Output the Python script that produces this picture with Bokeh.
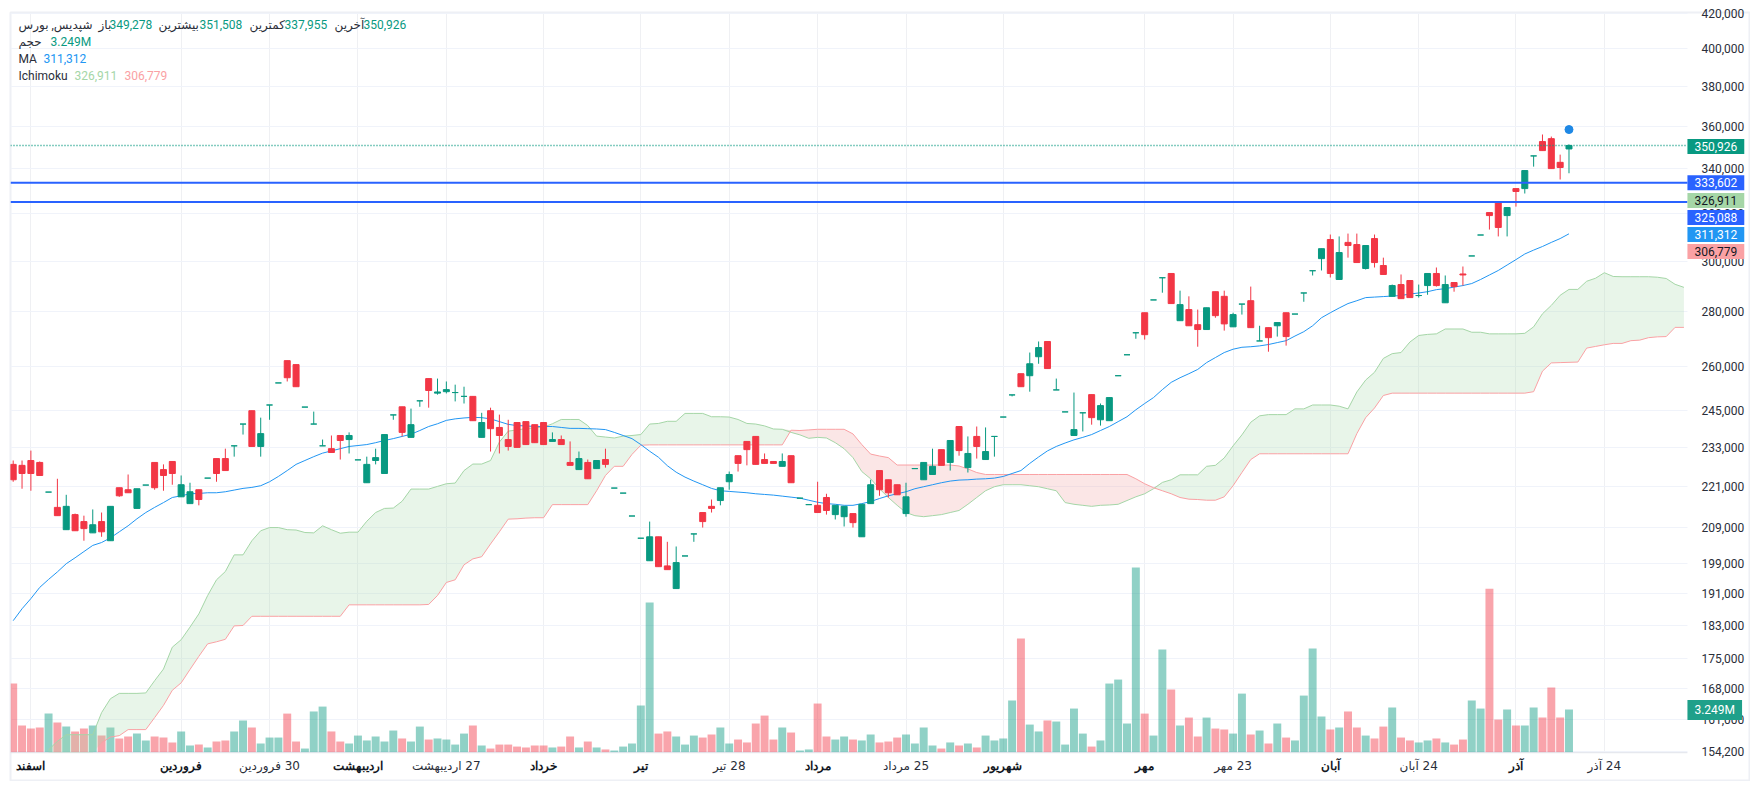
from bokeh.embed import file_html
from bokeh.models import (ColumnDataSource, FixedTicker, Label, LabelSet, LinearScale,
                          NumeralTickFormatter, Range1d)
from bokeh.plotting import figure
from bokeh.resources import INLINE

highs = [228900,228900,232000,228600,219300,223300,218500,213000,212400,214200,213300,215100,220600,224600,220300,221400,
         228300,227700,228600,224300,222100,220000,223500,229500,232600,233500,240500,244900,242600,246800,254300,262100,
         260700,246100,244600,235500,236800,236800,237800,229100,230100,232600,237100,243500,246200,245600,248200,255800,
         255800,254800,253700,253000,249700,244200,245900,243600,241900,241000,241300,240300,241000,237800,236800,234900,
         231700,229200,228900,232600,220500,219000,212300,206000,210700,206400,205000,203700,201100,207200,213300,217100,
         220600,225500,230400,234900,236500,231100,228600,231100,230400,217500,215600,222400,218800,215400,215100,213000,
         215700,223000,225800,223000,221500,222100,226400,228300,232600,232300,235200,239700,236500,239700,239400,236500,
         242800,250200,257500,265000,269000,269000,255800,244500,251000,244200,250300,247300,249300,256800,264200,272200,
         279700,284600,293300,295000,288200,286000,280900,281600,287800,288200,279700,283000,289800,274800,274100,276000,
         279700,279200,287300,296100,305100,311000,310200,311400,311400,306400,311000,301400,290600,294600,292200,290600,
         295000,297400,294200,291400,297800,302100,310800,320400,325200,322600,331000,339200,346000,356200,355200,346600,351508]
opens = [227700,227400,228900,228300,219300,214800,208400,212700,210700,207500,210700,205300,220600,220000,214500,221400,
         228300,226100,228600,217900,215900,220000,223500,229500,229500,233500,240500,244900,233300,246800,254300,262100,
         260700,246100,240500,233500,232600,236800,235500,229100,222100,228900,224900,243500,246200,236200,248200,255800,
         250800,251300,251000,249700,249700,236200,244900,239400,235500,241000,241300,240300,241000,234900,235500,228300,
         226100,228300,226400,229200,220500,219000,212300,206000,199800,206400,198400,192400,201100,207200,213300,215100,
         216800,222400,230400,234900,236500,229200,228600,227100,230400,217500,215600,215400,217700,212700,212100,213000,
         206400,215900,225800,223000,221500,213000,226400,223000,224600,232300,228300,239700,226700,236500,229200,236500,
         242800,250200,257500,256800,263500,269000,251900,244500,236800,244200,250300,241900,241600,256800,264200,272200,
         279700,284600,293300,295000,276700,280900,275200,273400,287800,286000,274400,283000,284300,269200,274100,274800,
         279700,279200,287300,296100,301000,308900,292600,307700,306800,297000,309300,298200,286000,290600,292200,286300,
         290200,295000,283500,291400,294800,302100,310800,320400,325200,319100,331000,331000,346000,352800,354200,343000,349278]
closes = [223000,224900,224900,224300,219300,212400,215100,208100,208700,209800,207800,215100,218200,219100,220300,221400,
          220600,224300,224900,221500,219400,217100,223500,224900,225800,233500,240500,233300,237400,246800,254300,256100,
          253000,246100,240500,233500,231400,235200,236800,229100,227700,229800,237100,243500,237800,240300,248200,251700,
          251200,252000,251000,249700,241600,241000,239000,236800,233300,233000,233900,234500,233900,235500,233900,227400,
          229500,223300,228900,227700,220500,219000,212300,206000,206400,198200,197400,199300,201100,207200,210700,214500,
          220600,224600,228000,232300,227700,228000,228000,228600,222100,217500,215600,213300,213900,215400,215100,210400,
          215700,221500,220000,219100,218500,217900,226400,228300,227100,227400,235200,232000,231100,233300,231700,236500,
          242800,250200,253000,261000,266800,259300,251900,244500,238700,244200,242600,246600,249300,256800,264200,272200,
          271500,284600,293300,283200,282800,274800,273400,281600,278600,275500,279000,283000,274100,269200,270400,276000,
          270800,279200,287300,296100,305100,295000,303500,306400,299400,306400,299400,294600,290200,285100,285500,286300,
          295000,290200,290600,289800,294400,302100,310800,319100,314000,322600,329700,339200,346000,348500,340100,340600,350926]
lows = [222400,220300,219700,224300,219300,212400,208400,208100,205300,207500,206400,205300,217900,219100,214500,221400,
        220000,219700,221500,217900,215900,215400,223500,222400,225800,230100,237100,233300,230100,241900,254300,254800,
        253000,246100,240500,233500,231400,229200,231100,229100,222100,227700,224900,241900,236500,236200,246200,245900,
        250300,250700,248000,247300,241600,236200,231700,231100,232000,233000,233900,234500,233900,234900,233900,227400,
        226100,223300,226400,226700,220500,219000,212300,206000,199800,198200,197400,192400,201100,205000,209000,213300,
        215400,220000,225500,227400,227700,228000,228000,227100,222100,217500,215600,213300,212700,211300,209300,209000,
        206400,215900,218200,217700,218500,212100,226400,223000,224600,227400,225800,230400,225200,229500,229200,230100,
        242800,249700,253000,251300,261000,259300,251900,244500,236800,238100,240300,240000,241600,256800,264200,270000,
        269700,284600,287400,283200,276700,274800,267100,273400,277800,273000,274400,279000,274100,269200,265300,270800,
        267500,279200,283900,294200,296200,293400,292600,301400,299400,296600,297400,294600,286000,285100,285500,285500,
        286600,289800,283500,287800,290200,302100,310800,313100,310200,310200,323000,328800,341000,348500,340100,335100,337955]
volumes = [5.21,2.04,1.81,1.89,2.94,2.27,1.96,1.59,1.81,2.04,1.28,1.89,1.06,1.21,1.43,0.91,1.21,1.13,0.76,1.59,0.53,0.60,0.38,0.83,
           0.91,1.59,2.42,1.89,0.68,1.13,1.13,2.94,0.83,0.30,3.10,3.47,1.59,0.83,0.68,1.28,0.91,1.21,0.83,1.66,1.06,0.83,1.96,0.98,
           1.06,0.98,0.60,1.43,2.04,0.53,0.30,0.60,0.60,0.45,0.38,0.53,0.53,0.38,0.45,1.21,0.38,0.83,0.38,0.23,0.15,0.45,0.68,3.55,
           11.33,1.43,1.59,1.21,0.60,1.28,1.13,1.36,1.89,0.68,0.98,0.76,2.19,2.79,0.98,1.89,1.51,0.15,0.23,3.70,1.21,0.98,1.21,0.98,
           0.91,1.36,0.76,0.83,1.13,1.36,0.68,1.89,0.53,0.30,0.76,0.53,0.68,0.38,1.28,0.91,1.06,3.93,8.61,2.11,1.59,2.42,2.34,0.60,
           3.32,1.43,0.45,0.91,5.21,5.51,2.19,13.97,2.94,1.28,7.78,4.76,2.04,2.64,1.21,2.64,1.81,1.74,1.43,4.45,1.36,1.66,0.68,2.19,
           1.13,0.91,4.30,7.85,2.72,1.74,1.89,3.10,1.89,1.28,1.06,1.96,3.40,1.13,0.91,0.76,0.91,1.06,0.76,0.60,0.98,3.93,3.32,12.38,
           2.49,3.25,2.04,2.04,3.40,2.64,4.91,2.64,3.249]
ma = [184200,187200,189800,192700,194800,196800,199000,200600,202300,204000,204800,206100,207800,209500,211500,213300,214800,216200,
      217700,218200,218800,218900,219100,219100,219400,219900,220400,220700,221200,222400,224000,225800,227700,228900,230100,231200,
      231900,232600,233300,233600,233900,234500,235200,235800,236500,237200,238400,239700,240600,241700,242200,242500,242700,242600,
      242200,241300,240400,240000,239900,239700,239700,239700,239400,239100,239100,239000,238900,238700,237800,236800,235800,233900,
      231800,229900,227300,225300,223800,222600,221500,220400,219700,219500,219300,219100,218800,218600,218400,218100,217800,217500,
      216900,216300,215900,215700,215400,215400,215900,216500,217400,218200,218800,219400,220300,220900,221500,222100,222600,222900,
      223000,223200,223300,223500,224000,224900,225800,228000,230000,231900,233300,234400,235400,236200,237100,238400,239700,241300,
      242900,245200,247300,249300,252000,254500,256100,257500,259000,261400,263200,265000,266200,266900,267100,267400,267900,268600,
      269300,271000,272600,274800,277800,279700,281500,283200,284300,285500,285700,285900,286100,286300,286900,287300,287800,288600,
      289000,289600,290200,291000,292600,294400,296200,298400,300600,302900,304500,306000,307700,309300,311312]
# cloud starts at bar 4 and runs past the last candle up to the price axis
span_a = [154600,156400,157800,157800,157800,157800,162600,165700,166900,166900,166900,167000,169800,172500,177700,179500,182600,185900,
          190600,194700,196900,201400,201400,205300,208100,209000,209000,208400,208300,207600,207500,209500,208400,207400,207700,207700,
          210800,213300,214500,214600,216600,220200,220200,220200,221000,221800,222000,225800,227800,227800,228900,234700,238200,238600,
          239000,239300,239500,240600,242000,242000,242000,240000,236600,236300,236000,236600,236800,237100,240500,240700,241400,241400,
          244000,244000,244000,242900,242900,242800,242000,240700,240500,239900,238900,238800,237800,237000,235900,236200,236000,234500,
          232600,229800,225500,223300,220300,217700,215400,213300,212400,212100,212400,212700,213300,213900,215700,217700,219700,220900,
          221500,221500,221500,221200,220900,220300,219700,216200,215700,215400,215100,215400,215500,215700,216800,217900,218800,220300,
          222200,223000,224500,224500,224500,227100,227400,229700,233500,237000,241100,243200,243600,243600,243600,245500,245500,246800,
          246800,246800,246400,245500,251200,255300,258000,262900,264600,265000,268800,271200,271600,271800,273600,273600,273600,272400,
          272400,271800,271800,271800,271800,272000,274400,279300,282500,286400,288700,288700,291900,293100,295300,293800,293700,293700,
          293700,293700,293500,293000,290700,289500]
span_b = [154000,154000,154000,154000,154000,154000,156100,157300,157600,158900,158900,158900,161500,164200,167600,169300,172400,175500,
          178500,179000,179600,182900,183000,185300,185300,185300,185300,185300,185300,185300,185300,185300,185300,185300,188200,188200,
          188200,188200,188200,188200,188200,188200,188200,188300,190600,194000,194700,198700,200300,200900,204400,207800,211400,211500,
          211700,211800,211800,215600,215600,215600,215600,215600,219700,224300,227100,227100,230800,233700,233800,233800,233800,233800,
          233800,233800,233800,233800,233800,233800,233800,233800,233800,233800,233800,233800,238500,238400,238600,238800,238800,238800,
          238800,237300,233900,230900,230300,229800,227500,227500,227500,227500,227500,227500,227500,227200,226300,225200,224600,224600,
          224600,224600,224600,224600,224600,224600,224600,224600,224600,224600,224600,224600,224600,224600,224600,223300,221800,220600,
          219700,218800,217700,217200,217100,216900,216900,217900,221200,225200,229200,231000,231000,231000,231000,231000,231000,231000,
          231000,231000,231000,231000,237400,242600,245800,250000,250800,250800,250800,250800,250800,250800,250800,250800,250800,250800,
          250800,250800,250800,250800,250800,250800,251300,258400,261300,261400,261500,261600,266600,267200,267800,268300,268300,269300,
          269500,270400,270700,270800,274200,274200]
cloud_start = 4
price_ticks = [154200,161000,168000,175000,183000,191000,199000,209000,221000,233000,245000,260000,280000,300000,
               320000,340000,360000,380000,400000,420000]
tick_bars = [2,19,29,39,49,60,71,81,91,101,112,128,138,149,159,170,180]
tick_names = ["اسفند","فروردین","30 فروردین","اردیبهشت","27 اردیبهشت","خرداد","تیر","28 تیر","مرداد","25 مرداد",
              "شهریور","مهر","23 مهر","آبان","24 آبان","آذر","24 آذر"]

GREEN = "#089981"
RED = "#F23645"
FONT = "Roboto, 'DejaVu Sans'"
FONT_FA = "'DejaVu Sans'"
TEXT = "#2a2e39"

# the plot area also holds the axis strips, the price pane stops at these limits
PANE_RIGHT = 189.4
PANE_LEFT = -0.305
PANE_BOTTOM = 154000
PANE_TOP = 420300

bars = list(range(len(closes)))
colors = [GREEN if c >= o else RED for o, c in zip(opens, closes)]
source = ColumnDataSource(dict(x=bars, o=opens, c=closes, h=highs, l=lows, v=volumes, color=colors,
                               top=[max(a, b) for a, b in zip(opens, closes)],
                               bottom=[min(a, b) for a, b in zip(opens, closes)]))

p = figure(frame_width=1739, frame_height=768, output_backend="svg", toolbar_location=None,
           y_axis_type="log", y_axis_location="right",
           x_range=Range1d(PANE_LEFT, 196.42), y_range=Range1d(148300, PANE_TOP),
           min_border_left=10, min_border_top=12, min_border_right=1, min_border_bottom=1,
           background_fill_color="white", border_fill_color="white")
p.outline_line_color = "#eef0f5"
p.outline_line_width = 2
p.extra_y_ranges = {"vol": Range1d(-2.114, 55.9)}
p.extra_y_scales = {"vol": LinearScale()}

p.xgrid.grid_line_color = "#eff0f3"
p.ygrid.grid_line_color = "#f0f3fa"
p.xgrid.cross_bounds = (PANE_BOTTOM, PANE_TOP)
p.ygrid.cross_bounds = (PANE_LEFT, PANE_RIGHT)

p.yaxis.ticker = FixedTicker(ticks=price_ticks)
p.yaxis.formatter = NumeralTickFormatter(format="0,0")
p.yaxis.major_label_text_font = FONT
p.yaxis.major_label_text_font_size = "12px"
p.yaxis.major_label_text_color = TEXT
p.yaxis.major_tick_line_color = None
p.yaxis.minor_tick_line_color = None
p.yaxis.axis_line_color = None
p.yaxis.major_label_standoff = -54

p.xaxis.ticker = FixedTicker(ticks=tick_bars)
p.xaxis.major_label_overrides = {b: ("\u200f" + n if n[0].isdigit() else "") for b, n in zip(tick_bars, tick_names)}
p.xaxis.major_label_text_font = FONT_FA
p.xaxis.major_label_text_font_size = "12px"
p.xaxis.major_label_text_color = TEXT
p.xaxis.major_tick_line_color = None
p.xaxis.minor_tick_line_color = None
p.xaxis.axis_line_color = None
p.xaxis.major_label_standoff = -28

# bold month names sit on the same row as the axis labels
months = [(b, n) for b, n in zip(tick_bars, tick_names) if not n[0].isdigit()]
p.add_layout(LabelSet(x="x", y="y", text="t",
                      source=ColumnDataSource(dict(x=[m[0] for m in months], y=[151300] * len(months),
                                                   t=[m[1] for m in months])),
                      text_align="center", text_baseline="middle", text_font=FONT_FA, text_font_size="12px",
                      text_font_style="bold", text_color="#131722"))

# volume underneath everything
p.vbar(x="x", top="v", bottom=0, width=0.9, fill_color="color", fill_alpha=0.45, line_color=None,
       source=source, y_range_name="vol")
p.line([PANE_LEFT, PANE_RIGHT], [PANE_BOTTOM, PANE_BOTTOM], line_color="#e0e3eb", line_width=1)

# ichimoku cloud
xc = list(range(cloud_start, cloud_start + len(span_a)))
upper = [max(a, b) for a, b in zip(span_a, span_b)]
p.varea(x=xc, y1=span_b, y2=upper, fill_color="#A5D6A7", fill_alpha=0.25)
p.varea(x=xc, y1=span_a, y2=upper, fill_color="#EF9A9A", fill_alpha=0.25)
p.line(xc, span_a, line_color="#A5D6A7", line_width=1)
p.line(xc[6:], span_b[6:], line_color="#FAA1A4", line_width=1)

# moving average
p.line(bars, ma, line_color="#2196F3", line_width=1)

# candles
p.segment(x0="x", x1="x", y0="l", y1="h", color="color", line_width=1, source=source)
p.vbar(x="x", top="top", bottom="bottom", width=0.68, fill_color="color", line_color="color", line_width=1, source=source)

p.scatter([bars[-1]], [358600], size=8, color="#1E88E5")

# last price and the two drawn levels
p.line([PANE_LEFT, PANE_RIGHT], [closes[-1], closes[-1]], line_color=GREEN, line_width=1.5, line_dash=[1, 2])
for level in [333602, 325088]:
    p.line([PANE_LEFT, PANE_RIGHT], [level, level], line_color="#2962FF", line_width=2)

# price tags on the axis: value, position on axis, fill, text colour
tags = [("350,926", 350500, GREEN, "white"),
        ("333,602", 333602, "#2962FF", "white"),
        ("326,911", 325700, "#A5D6A7", "#131722"),
        ("325,088", 318300, "#2962FF", "white"),
        ("311,312", 311000, "#2196F3", "white"),
        ("306,779", 303900, "#FAA1A4", "#131722"),
        ("3.249M", 163200, "#1FA08A", "white")]
for text, y, fill, col in tags:
    p.add_layout(Label(x=PANE_RIGHT, y=y, text=text, text_font=FONT, text_font_size="12px", text_color=col,
                       text_align="left", text_baseline="middle",
                       background_fill_color=fill, padding=(7, 3)))

# legend rows, screen positions are measured from the frame's bottom left corner
def legend(x, y, text, color):
    p.add_layout(Label(x=x - 10, y=780 - y, x_units="screen", y_units="screen", text=text,
                       text_font=FONT, text_font_size="12px", text_color=color,
                       text_baseline="middle"))

legend(18, 24, "شپدیس, بورس", TEXT)
legend(98, 24, "باز", TEXT)
legend(109, 24, "349,278", GREEN)
legend(158, 24, "بیشترین", TEXT)
legend(199, 24, "351,508", GREEN)
legend(249, 24, "کمترین", TEXT)
legend(284, 24, "337,955", GREEN)
legend(334, 24, "آخرین", TEXT)
legend(363, 24, "350,926", GREEN)
legend(18, 41, "حجم", TEXT)
legend(50, 41, "3.249M", GREEN)
legend(18, 58, "MA", TEXT)
legend(43, 58, "311,312", "#2196F3")
legend(18, 75, "Ichimoku", TEXT)
legend(74, 75, "326,911", "#A5D6A7")
legend(124, 75, "306,779", "#FAA1A4")

open("out.html", "w").write(file_html(p, INLINE))
